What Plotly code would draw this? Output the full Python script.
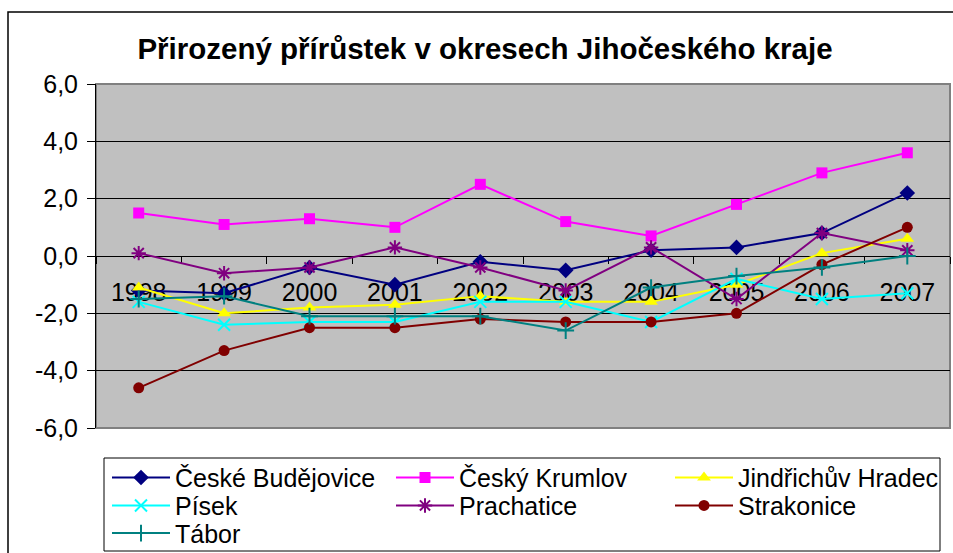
import plotly.graph_objects as go

years = ["1998", "1999", "2000", "2001", "2002", "2003", "2004", "2005", "2006", "2007"]

ceske_budejovice = [-1.2, -1.3, -0.4, -1.0, -0.2, -0.5, 0.2, 0.3, 0.8, 2.2]
cesky_krumlov = [1.5, 1.1, 1.3, 1.0, 2.5, 1.2, 0.7, 1.8, 2.9, 3.6]
jindrichuv_hradec = [-1.1, -2.0, -1.8, -1.7, -1.4, -1.6, -1.6, -1.0, 0.1, 0.6]
pisek = [-1.6, -2.4, -2.3, -2.3, -1.6, -1.6, -2.3, -0.8, -1.5, -1.3]
prachatice = [0.1, -0.6, -0.4, 0.3, -0.4, -1.2, 0.3, -1.5, 0.8, 0.2]
strakonice = [-4.6, -3.3, -2.5, -2.5, -2.2, -2.3, -2.3, -2.0, -0.3, 1.0]
tabor = [-1.5, -1.4, -2.1, -2.1, -2.1, -2.6, -1.1, -0.7, -0.4, 0.0]

y_tick_vals = [-6, -4, -2, 0, 2, 4, 6]
y_tick_text = ["-6,0", "-4,0", "-2,0", "0,0", "2,0", "4,0", "6,0"]

title_text = "Přirozený přírůstek v okresech Jihočeského kraje"

# name, values, colour, symbol, marker size, legend row, legend entry width
series = [
    ("České Budějovice", ceske_budejovice, "#000080", "diamond", 12, "legend", 211),
    ("Český Krumlov", cesky_krumlov, "#FF00FF", "square", 11, "legend", 206),
    ("Jindřichův Hradec", jindrichuv_hradec, "#FFFF00", "triangle-up", 12, "legend", 211),
    ("Písek", pisek, "#00FFFF", "x-thin-open", 12, "legend2", 211),
    ("Prachatice", prachatice, "#800080", "asterisk-open", 12, "legend2", 206),
    ("Strakonice", strakonice, "#800000", "circle", 11, "legend2", 211),
    ("Tábor", tabor, "#008080", "cross-thin-open", 12, "legend3", 211),
]

FONT = "Liberation Sans, Arial, sans-serif"

fig = go.Figure()
for name, vals, color, sym, size, leg, lw in series:
    fig.add_trace(go.Scatter(
        x=years, y=vals, name=name, mode="lines+markers",
        line=dict(color=color, width=2),
        marker=dict(symbol=sym, size=size, color=color,
                    line=dict(color=color, width=2 if "open" in sym else 0)),
        legend=leg, legendwidth=lw,
    ))

W, H = 953, 553
L, R, T, B = 96, 950, 84, 428
pw, ph = R - L, B - T


def px(xp):
    return (xp - L) / pw


def py(yp):
    return (B - yp) / ph


leg_common = dict(orientation="h", xanchor="left", yanchor="middle",
                  bgcolor="rgba(0,0,0,0)", borderwidth=0,
                  font=dict(family=FONT, size=25, color="black"),
                  entrywidthmode="pixels", itemwidth=58,
                  traceorder="normal")

fig.update_layout(
    width=W, height=H,
    margin=dict(l=L, r=W - R, t=T, b=H - B, autoexpand=False),
    paper_bgcolor="white",
    plot_bgcolor="#C0C0C0",
    font=dict(family=FONT, size=25, color="black"),
    title=dict(text=title_text, font=dict(family=FONT, size=29.5, color="black", weight="bold"),
               xref="paper", x=px(485), xanchor="center",
               yref="container", y=1 - 49 / H, yanchor="middle"),
    showlegend=True,
    legend=dict(leg_common, x=px(107), y=py(477.7)),
    legend2=dict(leg_common, x=px(107), y=py(505.7)),
    legend3=dict(leg_common, x=px(107), y=py(533.3)),
    xaxis=dict(type="category", range=[-0.5, 9.5], anchor="free", position=0.5,
               showline=True, linecolor="black", linewidth=1,
               ticks="outside", ticklen=7, tickcolor="black", tickwidth=1,
               tickson="boundaries", showgrid=False, zeroline=False,
               tickfont=dict(family=FONT, size=25, color="black"),
               ticklabelstandoff=14, layer="below traces"),
    yaxis=dict(range=[-6, 6], tickvals=y_tick_vals, ticktext=y_tick_text,
               showline=True, linecolor="black", linewidth=1,
               ticks="outside", ticklen=8, tickcolor="black",
               showgrid=True, gridcolor="black", gridwidth=1, zeroline=False,
               tickfont=dict(family=FONT, size=25, color="black"),
               ticklabelstandoff=4),
    shapes=[
        # plot area border (top/right/bottom grey)
        dict(type="rect", xref="paper", yref="paper", x0=0, x1=1, y0=0, y1=1,
             line=dict(color="#808080", width=2), layer="below"),
        # outer chart border
        dict(type="rect", xref="paper", yref="paper", x0=px(8), x1=px(990),
             y0=py(600), y1=py(12), line=dict(color="black", width=1.5)),
        # legend box
        dict(type="rect", xref="paper", yref="paper", x0=px(104), x1=px(940),
             y0=py(551), y1=py(458), line=dict(color="black", width=1),
             fillcolor="white", layer="below"),
    ],
)

fig.write_html("out.html", config={"displayModeBar": False},
               post_script="document.body.style.margin='0';document.body.style.overflow='hidden';")
